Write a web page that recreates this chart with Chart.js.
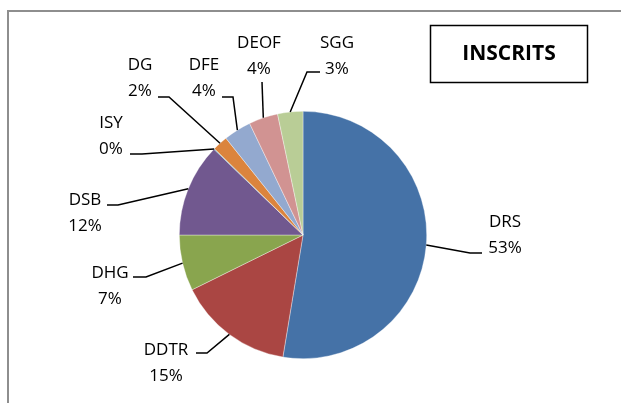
<!DOCTYPE html>
<html>
<head>
<meta charset="utf-8">
<script src="https://cdn.jsdelivr.net/npm/chart.js@4/dist/chart.umd.min.js"></script>
<style>
    body { margin: 0; background: #fff; }
    canvas { display: block; }
</style>
</head>
<body>
<canvas id="pieChart" width="621" height="403"></canvas>
<script>
// Données
const services = ["DRS", "DDTR", "DHG", "DSB", "ISY", "DG", "DFE", "DEOF", "SGG"];
const inscrits = [52.6, 15.1, 7.3, 12.2, 0.1, 2.0, 3.6, 3.8, 3.3];
const pourcentages = ["53%", "15%", "7%", "12%", "0%", "2%", "4%", "4%", "3%"];
const couleurs = ["#4572A7", "#AA4643", "#89A54E", "#71588F", "#4198AF", "#DB843D", "#93A9CF", "#D19392", "#B9CD96"];
const titre = "INSCRITS";

// Placement des étiquettes (décalage par rapport au centre du camembert)
const etiqDx = [202, -137, -193, -218, -192, -163, -99, -44, 34];
const etiqDy = [-8, 120, 43, -30, -107, -165, -165, -187, -187];
const finDx = [179, -107, -170, -196, -173, -145, -81, -41, 17];
const finDy = [18, 118, 42, -30, -81, -138, -138, -153, -163];
const coude = [-12, 11, 13, 11, 12, 11, 11, 0, -13];

const cadrePlugin = {
    id: "cadre",
    beforeDraw(chart) {
        const ctx = chart.ctx;
        ctx.save();
        ctx.strokeStyle = "#8e8e8e";
        ctx.lineWidth = 2;
        ctx.strokeRect(8, 11, 700, 500);
        // titre encadré
        ctx.strokeStyle = "#000";
        ctx.lineWidth = 1.5;
        ctx.strokeRect(430.5, 25.5, 157, 57);
        ctx.fillStyle = "#000";
        ctx.font = "bold 21px 'Open Sans'";
        ctx.textAlign = "center";
        ctx.textBaseline = "alphabetic";
        ctx.fillText(titre, 509, 60);
        ctx.restore();
    }
};

const etiquettesPlugin = {
    id: "etiquettes",
    afterDatasetsDraw(chart) {
        const ctx = chart.ctx;
        const arcs = chart.getDatasetMeta(0).data;
        ctx.save();
        ctx.strokeStyle = "#000";
        ctx.lineWidth = 1.5;
        ctx.fillStyle = "#000";
        ctx.font = "17px 'Open Sans'";
        ctx.textAlign = "center";
        ctx.textBaseline = "alphabetic";
        arcs.forEach((arc, i) => {
            const cx = arc.x, cy = arc.y;
            const mid = (arc.startAngle + arc.endAngle) / 2;
            const sx = cx + Math.cos(mid) * arc.outerRadius;
            const sy = cy + Math.sin(mid) * arc.outerRadius;
            const ex = cx + finDx[i], ey = cy + finDy[i];
            ctx.beginPath();
            ctx.moveTo(sx, sy);
            ctx.lineTo(ex + coude[i], ey);
            ctx.lineTo(ex, ey);
            ctx.stroke();
            const lx = cx + etiqDx[i], ly = cy + etiqDy[i];
            ctx.fillText(services[i], lx, ly);
            ctx.fillText(pourcentages[i], lx, ly + 26);
        });
        ctx.restore();
    }
};

new Chart(document.getElementById("pieChart").getContext("2d"), {
    type: "pie",
    data: {
        labels: services,
        datasets: [{
            data: inscrits,
            backgroundColor: couleurs,
            borderColor: "rgba(255,255,255,0.6)",
            borderWidth: 0.6
        }]
    },
    options: {
        responsive: false,
        animation: false,
        layout: { padding: { left: 179, right: 194, top: 111, bottom: 44 } },
        plugins: {
            legend: { display: false },
            tooltip: { enabled: false }
        }
    },
    plugins: [cadrePlugin, etiquettesPlugin]
});
</script>
</body>
</html>
